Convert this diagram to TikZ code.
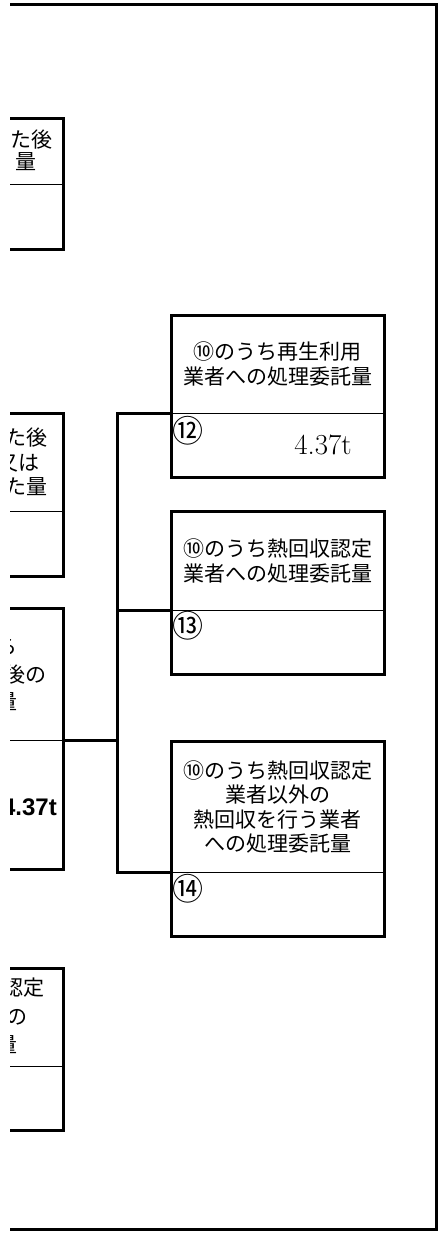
\documentclass[tikz,border=0pt]{standalone}
\usepackage{fontspec}
\newfontfamily\jpfont{Noto Sans CJK JP}
\newfontfamily\arialfont{Liberation Sans}
\usepackage{tikz}
\usetikzlibrary{positioning}

\tikzset{
  cell/.style={minimum width=213pt, inner sep=0pt, align=center,
    font=\jpfont\fontsize{21}{24.5}\selectfont},
  head/.style={cell, minimum height=#1},
  val/.style={cell, minimum height=#1},
  box/.style={line width=3pt},
  rule/.style={line width=1pt},
  link/.style={line width=3pt},
  num/.style={inner sep=0pt, font=\jpfont\fontsize{31}{31}\selectfont},
  txt/.style={anchor=east, inner sep=0pt, font=\jpfont\fontsize{21}{21}\selectfont},
}

\begin{document}
\begin{tikzpicture}[x=1pt, y=-1pt]
  \useasboundingbox (0,0) rectangle (441,1235);
  \begin{scope}
    \clip (10,-5) rectangle (445,1240);

    % Define nodes
    \node[head=98pt, anchor=north west] (h12) at (171,315) {⑩のうち再生利用\\業者への処理委託量};
    \node[val=64pt, below=0pt of h12]   (v12) {};
    \node[head=98pt, below=34pt of v12] (h13) {⑩のうち熱回収認定\\業者への処理委託量};
    \node[val=64pt, below=0pt of h13]   (v13) {};
    \node[head=130pt, below=67pt of v13] (h14) {⑩のうち熱回収認定\\業者以外の\\熱回収を行う業者\\への処理委託量};
    \node[val=64pt, below=0pt of h14]   (v14) {};

    \node[head=66pt, anchor=north east]  (lh1) at (63,118) {};
    \node[val=65pt, below=0pt of lh1]    (lv1) {};
    \node[head=98pt, anchor=north east]  (lh2) at (63,413) {};
    \node[val=65pt, below=0pt of lh2]    (lv2) {};
    \node[head=132pt, anchor=north east] (lh3) at (63,608) {};
    \node[val=129pt, below=0pt of lh3]   (lv3) {};
    \node[head=98pt, anchor=north east]  (lh4) at (63,968) {};
    \node[val=64pt, below=0pt of lh4]    (lv4) {};

    % Boxes
    \foreach \n in {12,13,14} {
      \draw[box] (h\n.north west) rectangle (v\n.south east);
      \draw[rule] (h\n.south west) -- (h\n.south east);
    }
    \foreach \n in {1,...,4} {
      \draw[box] (lh\n.north west) rectangle (lv\n.south east);
      \draw[rule] (lh\n.south west) -- (lh\n.south east);
    }

    % Labels
    \node[num] (n12) at ([xshift=17pt,yshift=-17pt]v12.north west) {⑫};
    \node[num] (n13) at ([xshift=17pt,yshift=-16pt]v13.north west) {⑬};
    \node[num] (n14) at ([xshift=17pt,yshift=-17pt]v14.north west) {⑭};
    \node[anchor=base, inner sep=0pt, font=\fontsize{29}{29}\selectfont] (w12) at (323,454) {4.37t};

    \node[txt] (a1) at (53,140) {た後};
    \node[txt] (a2) at (37,162) {量};
    \node[txt] (b1) at (48,438) {た後};
    \node[txt] (b2) at (40,463) {又は};
    \node[txt] (b3) at (48,487) {た量};
    \node[txt] (c1) at (18,647) {ら};
    \node[txt] (c2) at (47,675) {後の};
    \node[txt] (c3) at (18,702) {量};
    \node[txt] (d1) at (45,988) {認定};
    \node[txt] (d2) at (28,1017) {の};
    \node[txt] (d3) at (18,1045) {量};
    \node[anchor=base east, inner sep=0pt, font=\arialfont\bfseries\fontsize{24}{24}\selectfont] (w3) at (57,815) {4.37t};

    % Connect the nodes
    \coordinate (bus) at (117,0);
    \draw[link] (h12.south west) -- (h12.south west -| bus) -- (h14.south west -| bus) -- (h14.south west);
    \draw[link] (h13.south west) -- (h13.south west -| bus);
    \draw[link] (lh3.south east) -- (lh3.south east -| bus);

    % Frame
    \draw[box] (0,4) -- (436,4) -- (436,1229) -- (0,1229);
  \end{scope}
\end{tikzpicture}
\end{document}
